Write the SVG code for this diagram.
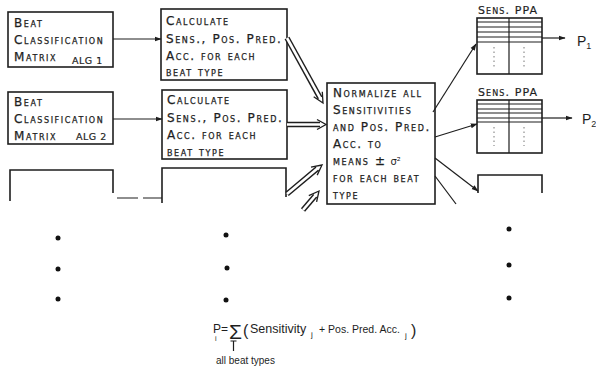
<svg xmlns="http://www.w3.org/2000/svg" width="596" height="372" viewBox="0 0 596 372">
<style>
.box{fill:none;stroke:#1e1e1e;stroke-width:1.6}
.ln{fill:none;stroke:#1e1e1e;stroke-width:1.2}
.lbl{font-family:"DejaVu Sans",sans-serif;font-size:12px;font-variant:small-caps;letter-spacing:1.6px;fill:#1e1e1e;stroke:#1e1e1e;stroke-width:0.25}
.nv{font-variant:normal;letter-spacing:0}
.alg{font-family:"DejaVu Sans",sans-serif;font-size:9.5px;letter-spacing:0.5px;fill:#1e1e1e;stroke:#1e1e1e;stroke-width:0.2}
.hdr{font-family:"DejaVu Sans",sans-serif;font-size:11px;font-variant:small-caps;letter-spacing:1.1px;fill:#1e1e1e;stroke:#1e1e1e;stroke-width:0.2}
.fm{font-family:"Liberation Sans",Arial,sans-serif;fill:#1e1e1e}
.dblo{fill:none;stroke:#1e1e1e;stroke-width:5.5}
.dbli{fill:none;stroke:#fff;stroke-width:2.6}
.chev{fill:none;stroke:#1e1e1e;stroke-width:1.3;stroke-linejoin:miter}
.dot{fill:#111}
.vd{fill:none;stroke:#777;stroke-width:1;stroke-dasharray:1.5 3}
</style>
<defs>
<marker id="ah" viewBox="0 0 10 10" refX="9" refY="5" markerWidth="7" markerHeight="7" orient="auto" markerUnits="userSpaceOnUse">
<path d="M0,1.5 L10,5 L0,8.5 Z" fill="#1e1e1e"/>
</marker>
</defs>
<rect width="596" height="372" fill="#fff"/>

<g id="matrix1">
<rect class="box" x="8" y="12" width="105" height="55"/>
<text class="lbl" x="14" y="27">Beat</text>
<text class="lbl" x="14" y="44">Classification</text>
<text class="lbl" x="14" y="61">Matrix</text>
<text class="alg" x="72" y="64">ALG 1</text>
</g>
<g id="matrix2">
<rect class="box" x="8" y="92" width="105" height="52"/>
<text class="lbl" x="14" y="106">Beat</text>
<text class="lbl" x="14" y="123">Classification</text>
<text class="lbl" x="14" y="140">Matrix</text>
<text class="alg" x="76" y="140">ALG 2</text>
</g>
<g id="matrix3">
<path class="box" d="M10,201 V170 H113 V193"/>
</g>

<g id="calc1">
<rect class="box" x="161" y="9" width="126" height="71"/>
<text class="lbl" x="166" y="25">Calculate</text>
<text class="lbl" x="166" y="43">Sens., Pos. Pred.</text>
<text class="lbl" x="166" y="60">Acc. for each</text>
<text class="lbl" x="166" y="76">beat type</text>
</g>
<g id="calc2">
<rect class="box" x="162" y="90" width="125" height="69"/>
<text class="lbl" x="167" y="104">Calculate</text>
<text class="lbl" x="167" y="122">Sens., Pos. Pred.</text>
<text class="lbl" x="167" y="139">Acc. for each</text>
<text class="lbl" x="167" y="156">beat type</text>
</g>
<g id="calc3">
<path class="box" d="M162,203 V168 H286 V197"/>
</g>

<g id="normalize">
<rect class="box" x="327" y="83" width="108" height="121"/>
<text class="lbl" x="333" y="97">Normalize all</text>
<text class="lbl" x="333" y="114">Sensitivities</text>
<text class="lbl" x="333" y="131">and Pos. Pred.</text>
<text class="lbl" x="333" y="148">Acc. to</text>
<text class="lbl" x="333" y="165">means <tspan class="nv">±</tspan> <tspan class="nv" font-size="10" stroke-width="0">σ²</tspan></text>
<text class="lbl" x="333" y="182">for each beat</text>
<text class="lbl" x="333" y="199">type</text>
</g>

<g id="table1">
<text class="hdr" x="478" y="14">Sens. PPA</text>
<rect class="box" x="477" y="18" width="65" height="56"/>
<path class="ln" d="M509,18 V74 M477,22 H542 M477,27 H542 M477,32 H542 M477,37 H542 M477,42 H542"/>
<path class="vd" d="M494,47 V67 M524,47 V67"/>
</g>
<g id="table2">
<text class="hdr" x="478" y="96">Sens. PPA</text>
<rect class="box" x="477" y="100" width="65" height="53"/>
<path class="ln" d="M509,100 V153 M477,104 H542 M477,109 H542 M477,113 H542 M477,118 H542 M477,122 H542"/>
<path class="vd" d="M494,127 V146 M524,127 V146"/>
</g>
<g id="table3">
<path class="box" d="M478,193 V175 H542 V193"/>
</g>

<g id="p1"><text class="fm" x="577" y="46" style="font-size:14px">P<tspan style="font-size:9px" dy="3">1</tspan></text></g>
<g id="p2"><text class="fm" x="582" y="124" style="font-size:14px">P<tspan style="font-size:9px" dy="3">2</tspan></text></g>

<g id="connectors">
<line class="ln" x1="113" y1="39" x2="161" y2="39" marker-end="url(#ah)"/>
<line class="ln" x1="113" y1="119" x2="162" y2="119" marker-end="url(#ah)"/>
<path class="ln" d="M117,198 H138 M143,198 H162"/>

<path class="dblo" d="M287,38 L320,97.8"/>
<path class="dbli" d="M287,38 L320.5,98.6"/>
<path class="chev" d="M322.3,91.8 L323,103 L313.7,96.8"/>

<path class="dblo" d="M287,124.5 H320"/>
<path class="dbli" d="M287,124.5 H321"/>
<path class="chev" d="M317,119.5 L326,124.5 L317,129.5"/>

<path class="dblo" d="M287,194 L317.3,168.7"/>
<path class="dbli" d="M287,194 L318,168.1"/>
<path class="chev" d="M317.2,175.1 L322,165 L311,167.2"/>

<path class="dblo" d="M303,210 L315.2,195.7"/>
<path class="dbli" d="M303,210 L315.8,195"/>
<path class="chev" d="M316.6,201.9 L319,191 L308.8,195.6"/>

<line class="ln" x1="433" y1="112" x2="476" y2="44" marker-end="url(#ah)"/>
<line class="ln" x1="435" y1="137" x2="477" y2="124" marker-end="url(#ah)"/>
<line class="ln" x1="435" y1="158" x2="478" y2="191" marker-end="url(#ah)"/>
<line class="ln" x1="435" y1="176" x2="456" y2="204"/>

<line class="ln" x1="542" y1="38" x2="565" y2="38" marker-end="url(#ah)"/>
<line class="ln" x1="542" y1="118" x2="572" y2="118" marker-end="url(#ah)"/>
</g>

<g id="dots">
<circle class="dot" cx="58" cy="238" r="2.5"/>
<circle class="dot" cx="58" cy="269" r="2.5"/>
<circle class="dot" cx="58" cy="299" r="2.5"/>
<circle class="dot" cx="226" cy="235" r="2.5"/>
<circle class="dot" cx="227" cy="268" r="2.5"/>
<circle class="dot" cx="226" cy="300" r="2.5"/>
<circle class="dot" cx="509" cy="229" r="2.5"/>
<circle class="dot" cx="509" cy="265" r="2.5"/>
<circle class="dot" cx="509" cy="298" r="2.5"/>
</g>

<g id="formula">
<text class="fm" style="font-size:12px"><tspan x="213" y="333">P</tspan><tspan x="215" y="341" style="font-size:7px">i</tspan><tspan x="221" y="333">=</tspan></text>
<text class="fm" x="229" y="339" style="font-size:21px">Σ</text>
<text class="fm" style="font-size:12.5px"><tspan x="243" y="336" style="font-size:16px">(</tspan><tspan x="250" y="333">Sensitivity</tspan><tspan x="311" y="337" style="font-size:8px">j</tspan><tspan x="319" y="333" style="font-size:10.5px">+ Pos. Pred. Acc.</tspan><tspan x="405" y="338" style="font-size:8px">j</tspan><tspan x="411" y="336" style="font-size:16px">)</tspan></text>
<path class="ln" d="M230.5,341 H236.5 M233.5,341 V351"/>
<text class="fm" x="216" y="364" style="font-size:10px">all beat types</text>
</g>
</svg>
